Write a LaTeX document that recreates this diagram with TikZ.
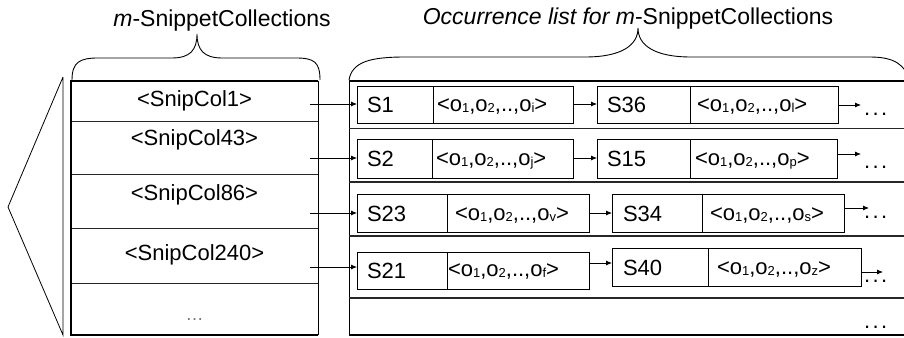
\documentclass[tikz,border=0pt]{standalone}
\usepackage{fontspec}
\setmainfont{Liberation Sans}
\usetikzlibrary{arrows.meta}
\newcommand{\sbx}[1]{\raisebox{-1.5pt}{\fontsize{13}{13}\selectfont #1}}
\newcommand{\olist}[1]{<o\sbx{1},o\sbx{2},..,o\sbx{#1}>}
\begin{document}
\begin{tikzpicture}[x=1pt,y=-1pt,
  every node/.style={inner sep=0pt, outer sep=0pt},
  txt/.style={font=\fontsize{22}{22}\selectfont, anchor=base west},
  ctxt/.style={font=\fontsize{22}{22}\selectfont, anchor=base},
  lbl/.style={font=\fontsize{23}{23}\selectfont, anchor=base},
  part/.style={draw, line width=0.8pt, anchor=north west},
  arr/.style={-{Latex[length=6pt,width=5pt]}, line width=0.8pt},
  edge/.style={line width=2.5pt},
  sep/.style={line width=1pt, black!85},
  thin/.style={line width=0.8pt},
  brace/.style={line width=0.9pt},
]
\useasboundingbox (0,0) rectangle (904,337);
\clip (0,0) rectangle (904,337);

% top labels
\node[lbl] (lblL) at (222,27) {\textit{m}-SnippetCollections};
\node[lbl] (lblR) at (628,25) {\textit{Occurrence list for m}-SnippetCollections};

% braces
\draw[brace] (72,80) .. controls (72,62) and (80,58) .. (98,58) -- (172,58)
  .. controls (190,58) and (197,50) .. (197,34)
  .. controls (197,50) and (204,58) .. (222,58) -- (296,58)
  .. controls (314,58) and (320,62) .. (320,80);
\draw[brace] (349,80) .. controls (352,62) and (370,57) .. (405,57) -- (585,57)
  .. controls (622,57) and (638,45) .. (638,28)
  .. controls (638,45) and (654,57) .. (691,57) -- (870,57)
  .. controls (895,57) and (905,65) .. (910,81);

% left triangle and thin line
\coordinate (tA) at (63,77);
\coordinate (tB) at (8,207);
\coordinate (tC) at (63,335);
\draw[thin] (tA) -- (tB) -- (tC) -- (tA);

% left table
\draw[sep] (71,121) -- (318,121);
\draw[sep] (71,174) -- (318,174);
\draw[sep] (71,228) -- (318,228);
\draw[sep] (71,283) -- (318,283);
\draw[thin] (318,81) -- (318,335);
\draw[edge] (318,81) -- (71,81) -- (71,335) -- (318,335);

\node[ctxt] (c1) at (194.5,106) {<SnipCol1>};
\node[ctxt] (c2) at (194.5,145) {<SnipCol43>};
\node[ctxt] (c3) at (194.5,200) {<SnipCol86>};
\node[ctxt] (c4) at (194.5,260) {<SnipCol240>};
\node[ctxt, text=black!55] (c5) at (194.5,320) {\fontsize{18}{18}\selectfont …};

% right table
\draw[thin] (349,81) -- (349,335);
\draw[sep] (349,128) -- (904,128);
\draw[sep, line width=1.3pt] (349,182) -- (904,182);
\draw[sep, line width=1.6pt] (349,236) -- (904,236);
\draw[sep, line width=1.8pt] (349,298) -- (904,298);
\draw[line width=2pt] (349,81) -- (904,81);
\draw[line width=2pt] (349,335) -- (904,335);

% row 1
\node[part, minimum width=76pt, minimum height=37pt] (r1as) at (357,86) {};
\node[part, minimum width=140pt, minimum height=37pt] (r1ao) at (433,86) {};
\node[part, minimum width=93pt, minimum height=37pt] (r1bs) at (597,86) {};
\node[part, minimum width=148pt, minimum height=37pt] (r1bo) at (690,86) {};
% row 2
\node[part, minimum width=75pt, minimum height=39pt] (r2as) at (357,139) {};
\node[part, minimum width=141pt, minimum height=39pt] (r2ao) at (432,139) {};
\node[part, minimum width=93pt, minimum height=39pt] (r2bs) at (597,139) {};
\node[part, minimum width=147pt, minimum height=39pt] (r2bo) at (690,139) {};
% row 3
\node[part, minimum width=90pt, minimum height=38pt] (r3as) at (357,194) {};
\node[part, minimum width=142pt, minimum height=38pt] (r3ao) at (447,194) {};
\node[part, minimum width=90pt, minimum height=38pt] (r3bs) at (612,194) {};
\node[part, minimum width=142pt, minimum height=38pt] (r3bo) at (702,194) {};
% row 4
\node[part, minimum width=90pt, minimum height=37pt] (r4as) at (357,252) {};
\node[part, minimum width=142pt, minimum height=37pt] (r4ao) at (447,252) {};
\node[part, minimum width=96pt, minimum height=38pt] (r4bs) at (612,248) {};
\node[part, minimum width=153pt, minimum height=38pt] (r4bo) at (708,248) {};

% texts
\node[txt] (t1a) at (367,112) {S1};
\node[txt] (t1b) at (437,111) {\olist{i}};
\node[txt] (t1c) at (607,112) {S36};
\node[txt] (t1d) at (697,111) {\olist{l}};
\node[txt] (t2a) at (367,166) {S2};
\node[txt] (t2b) at (436,165) {\olist{j}};
\node[txt] (t2c) at (607,166) {S15};
\node[txt] (t2d) at (695,165) {\olist{p}};
\node[txt] (t3a) at (367,221) {S23};
\node[txt] (t3b) at (455,220) {\olist{v}};
\node[txt] (t3c) at (623,221) {S34};
\node[txt] (t3d) at (710,220) {\olist{s}};
\node[txt] (t4a) at (367,278) {S21};
\node[txt] (t4b) at (448,276) {\olist{f}};
\node[txt] (t4c) at (623,275) {S40};
\node[txt] (t4d) at (717,274) {\olist{z}};

% arrows from left table
\coordinate (a1) at (310,104);
\coordinate (a2) at (310,158);
\coordinate (a3) at (310,213);
\coordinate (a4) at (310,267);
\draw[arr] (a1) -- (a1 -| r1as.west);
\draw[arr] (a2) -- (a2 -| r2as.west);
\draw[arr] (a3) -- (a3 -| r3as.west);
\draw[arr] (a4) -- (a4 -| r4as.west);

% arrows between boxes
\coordinate (m1) at (573,104);
\coordinate (m2) at (573,158);
\coordinate (m3) at (589,213);
\coordinate (m4) at (589,263);
\draw[arr] (m1) -- (m1 -| r1bs.west);
\draw[arr] (m2) -- (m2 -| r2bs.west);
\draw[arr] (m3) -- (m3 -| r3bs.west);
\draw[arr] (m4) -- (m4 -| r4bs.west);

% tail arrows
\coordinate (e1) at (861,105);
\coordinate (e2) at (861,154);
\coordinate (e3) at (869,208);
\coordinate (e4) at (883,272);
\draw[arr] (r1bo.east |- e1) -- (e1);
\draw[arr] (r2bo.east |- e2) -- (e2);
\draw[arr] (r3bo.east |- e3) -- (e3);
\draw[arr] (r4bo.east |- e4) -- (e4);

% dots
\node[txt] (d1) at (864,115) {.\hspace{2.5pt}.\hspace{2.5pt}.};
\node[txt] (d2) at (864,168) {.\hspace{2.5pt}.\hspace{2.5pt}.};
\node[txt] (d3) at (864,218) {.\hspace{2.5pt}.\hspace{2.5pt}.};
\node[txt] (d4) at (864,282) {.\hspace{2.5pt}.\hspace{2.5pt}.};
\node[txt] (d5) at (864,328) {.\hspace{2.5pt}.\hspace{2.5pt}.};
\end{tikzpicture}
\end{document}
